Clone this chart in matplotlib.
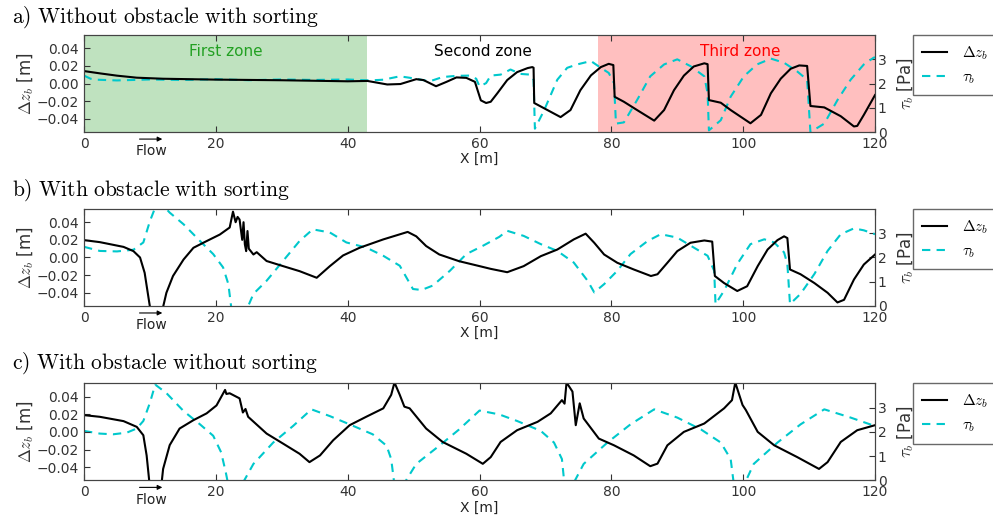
import numpy as np
import matplotlib
matplotlib.use('Agg')
import matplotlib.pyplot as plt

plt.rcParams['mathtext.fontset'] = 'cm'
plt.rcParams['font.family'] = 'DejaVu Sans'

titles = ['a)\\ Without\\ obstacle\\ with\\ sorting',
          'b)\\ With\\ obstacle\\ with\\ sorting',
          'c)\\ With\\ obstacle\\ without\\ sorting']

# panel a
xa_dz = [0, 2.5, 5, 8, 12, 20, 30, 40, 43, 44.5, 46, 48, 50.4, 51.5, 53.4, 55, 56.5, 58, 59.3,
         60.2, 61, 61.7, 62.7, 64.2, 65.7, 67.3, 68.0, 68.2, 68.3, 72.3, 73.8, 75.3, 76.9,
         78.4, 79.6, 80.3, 80.5, 81.9, 83.9, 86.5, 88, 89.5, 91, 92.5, 94.1, 94.6, 94.8,
         96.6, 98.1, 101.1, 102.7, 104.2, 105.7, 107.2, 108.5, 109.7, 110.2, 112.3, 114.8,
         116.8, 117.3, 118.3, 120]
a_dz = [0.0142, 0.0115, 0.009, 0.0067, 0.0055, 0.0045, 0.0038, 0.0026, 0.003, 0.001, -0.001,
        -0.0005, 0.005, 0.004, -0.003, 0.002, 0.007, 0.0065, 0.002, -0.019, -0.022, -0.0206,
        -0.011, 0.004, 0.013, 0.0176, 0.0187, 0.018, -0.022, -0.038, -0.030, -0.0075, 0.0093,
        0.0187, 0.0224, 0.021, -0.015, -0.0206, -0.030, -0.042, -0.030, -0.0075, 0.009,
        0.0194, 0.023, 0.022, -0.0187, -0.0217, -0.030, -0.045, -0.0355, -0.011, 0.0056,
        0.0168, 0.0206, 0.020, -0.0254, -0.027, -0.037, -0.0486, -0.048, -0.0355, -0.013]
xa_tau = [0, 1, 2, 5, 10, 15, 20, 25, 30, 35, 40, 43.3, 45.4, 47.9, 50.4, 52.4, 54.4, 56.5,
          58.5, 59.5, 60, 61, 61.7, 63.2, 64.7, 66.2, 67.7, 68.2, 68.4, 69.8, 71.8, 73.3, 74.8,
          76.9, 78.4, 79.6, 80.4, 80.7, 81.9, 83.9, 85.9, 88, 90, 92, 94.1, 94.6, 94.8, 96.6,
          98.1, 100.1, 102.1, 104.2, 106.2, 108.2, 109.7, 110.2, 112.3, 114.3, 116.3, 118.3,
          119.8, 120]
a_tau = [2.33, 2.2, 2.16, 2.13, 2.17, 2.15, 2.18, 2.14, 2.17, 2.15, 2.17, 2.13, 2.16, 2.3, 2.2,
         2.09, 2.27, 2.32, 2.33, 2.2, 1.88, 2.02, 2.33, 2.37, 2.58, 2.4, 2.37, 2.16, 0.14, 0.9,
         2.16, 2.65, 2.79, 2.93, 2.65, 2.44, 2.02, 0.35, 0.4, 1.32, 2.3, 2.79, 3.0, 2.72, 2.3,
         1.6, 0.07, 0.49, 1.46, 2.3, 2.79, 3.03, 2.86, 2.5, 2.16, 0.0, 0.35, 1.32, 2.16, 2.79,
         3.07, 3.08]

# panel b
xb_dz = [0, 2.4, 6, 7.5, 8.5, 9.2, 9.75, 10, 11, 12, 12.5, 13.5, 15.1, 16.6, 18.6, 20.6, 22.1,
         22.6, 23.0, 23.3, 23.6, 24.0, 24.2, 24.4, 24.6, 24.8, 25.0, 25.7, 26.2, 27.7, 30.2,
         32.7, 35.3, 37.3, 39.3, 41.8, 45.4, 49.1, 50.4, 51.9, 53.9, 56.9, 60, 61.7, 64.2,
         66.7, 69.3, 71.8, 74.3, 76.1, 77.4, 78.9, 80.9, 83.4, 86, 87, 88.5, 90, 92, 94.1,
         95.3, 95.7, 97.1, 99.1, 100.6, 102.2, 103.7, 105.2, 106.2, 106.7, 107.1, 108.7,
         110.8, 112.8, 114.3, 115.3, 116.8, 118.3, 120]
b_dz = [0.0197, 0.0174, 0.012, 0.0072, 0.0, -0.0174, -0.044, -0.056, -0.09, -0.056, -0.040,
        -0.021, -0.0023, 0.011, 0.0186, 0.026, 0.034, 0.052, 0.040, 0.046, 0.043, 0.02, 0.04,
        0.015, 0.0072, 0.03, 0.01, 0.0034, 0.006, -0.004, -0.0098, -0.0155, -0.023, -0.0098,
        0.0023, 0.011, 0.0205, 0.029, 0.024, 0.013, 0.0034, -0.0042, -0.0098, -0.0129,
        -0.0167, -0.0098, 0.0015, 0.009, 0.0205, 0.027, 0.0167, 0.0034, -0.006, -0.0136,
        -0.021, -0.019, -0.006, 0.0072, 0.0167, 0.0193, 0.018, -0.021, -0.029, -0.038,
        -0.0326, -0.0098, 0.009, 0.0197, 0.024, 0.022, -0.0136, -0.019, -0.029, -0.040,
        -0.051, -0.048, -0.025, -0.008, 0.0034]
xb_tau = [0, 2.4, 5, 7.5, 9, 10, 11, 11.8, 13, 15.1, 17.6, 19.6, 21.1, 21.9, 22.4, 24.6, 25.7,
          27.7, 30.2, 32.7, 34.7, 37.3, 39.8, 42.8, 45.4, 47.9, 49.9, 51.2, 52.9, 55.5, 58,
          60.5, 63, 64.2, 66.7, 69.3, 71.8, 74.3, 76.4, 77.4, 78.9, 80.9, 82.9, 85.5, 87.5,
          90, 92.5, 94.6, 95.6, 95.8, 97.1, 99.1, 101.1, 103.2, 104.7, 106.2, 106.7, 107.1,
          108.7, 110.8, 112.8, 114.8, 116.8, 118.3, 120]
b_tau = [2.44, 2.27, 2.25, 2.32, 2.62, 3.5, 4.2, 4.2, 3.85, 3.37, 2.68, 2.14, 1.59, 0.9, -0.2,
         -0.2, 0.5, 1.04, 1.86, 2.68, 3.16, 3.03, 2.62, 2.41, 2.07, 1.66, 0.7, 0.66, 0.84,
         1.45, 2.14, 2.48, 2.85, 3.1, 2.89, 2.55, 2.27, 1.79, 1.04, 0.56, 0.9, 1.45, 2.14,
         2.68, 2.96, 2.82, 2.41, 2.07, 1.45, 0.08, 0.63, 1.73, 2.55, 2.75, 2.62, 2.21, 1.73,
         0.08, 0.5, 1.32, 2.27, 2.96, 3.2, 3.12, 2.96]

# panel c
xc_dz = [0, 2.4, 6, 8, 9, 9.5, 9.9, 11, 11.8, 12, 13, 14.5, 16.6, 18.6, 20.1, 21.4, 21.6, 22.1,
         23.6, 24.1, 24.5, 24.9, 27.7, 30.2, 32.7, 34.2, 35.8, 37.8, 40.3, 42.8, 45.4, 46.6,
         47.1, 47.9, 48.6, 49.4, 51.9, 54.4, 58, 60.5, 61.7, 63.2, 65.7, 68.8, 70.8, 72.5,
         72.9, 73.2, 74.1, 74.6, 75.2, 75.8, 78.1, 80.4, 83.4, 85.9, 87, 88.5, 91, 94.1,
         97.1, 98.3, 98.8, 99.4, 99.9, 100.4, 102.2, 104.7, 108.2, 111.5, 112.8, 114.8,
         117.3, 120]
c_dz = [0.019, 0.0171, 0.0122, 0.0057, -0.0038, -0.0267, -0.056, -0.1, -0.056, -0.042,
        -0.015, 0.0038, 0.0133, 0.021, 0.030, 0.0476, 0.043, 0.0438, 0.038, 0.022, 0.026,
        0.0171, -0.0019, -0.0133, -0.0248, -0.0343, -0.0267, -0.0095, 0.0076, 0.0171,
        0.0267, 0.042, 0.056, 0.042, 0.0286, 0.0267, 0.0038, -0.0114, -0.0248, -0.0362,
        -0.0286, -0.0114, 0.0019, 0.0114, 0.021, 0.036, 0.032, 0.056, 0.0457, 0.0076,
        0.0324, 0.0152, -0.0076, -0.0152, -0.0267, -0.0389, -0.036, -0.0152, 0.0, 0.0095,
        0.0267, 0.036, 0.056, 0.042, 0.0305, 0.0248, 0.0, -0.0152, -0.0286, -0.042,
        -0.0343, -0.0114, 0.0019, 0.0076]
xc_tau = [0, 2.4, 4.4, 6.5, 8, 9, 10, 10.8, 12.5, 15.1, 17.6, 19.6, 20.8, 21.5, 21.9, 23.9,
          25.7, 28.7, 31.7, 34.5, 37.3, 40.3, 43.8, 45.9, 46.6, 47.1, 48.4, 50.4, 53.9, 56.9,
          60, 63, 65.7, 69.3, 71.3, 72.5, 72.9, 74.1, 75.8, 79.4, 82.9, 86.5, 90, 93.6,
          96.6, 98.1, 98.6, 100.1, 101.6, 105.2, 108.7, 112.3, 116.3, 120]
c_tau = [2.04, 1.93, 1.9, 1.97, 2.14, 2.45, 3.2, 3.95, 3.6, 2.86, 2.31, 1.84, 1.16, 0.34, -0.2,
         -0.2, 0.68, 1.56, 2.24, 2.93, 2.65, 2.31, 1.9, 1.43, 0.88, -0.2, -0.2, 0.68, 1.43,
         2.1, 2.88, 2.72, 2.45, 2.04, 1.56, 0.88, -0.2, -0.2, 0.68, 1.56, 2.31, 2.93, 2.59,
         2.1, 1.56, 0.88, -0.2, -0.2, 0.68, 1.56, 2.31, 2.93, 2.59, 2.24]

panels = [(xa_dz, a_dz, xa_tau, a_tau), (xb_dz, b_dz, xb_tau, b_tau), (xc_dz, c_dz, xc_tau, c_tau)]
bottoms = [0.744, 0.407, 0.069]
title_y = [0.967, 0.631, 0.296]
cyan = '#00c8cc'

fig = plt.figure(figsize=(9.93, 5.16), dpi=100)
for i, (xd, yd, xt, yt) in enumerate(panels):
    ax = fig.add_axes([0.0846, bottoms[i], 0.7966, 0.188])
    ax2 = ax.twinx()
    l1, = ax.plot(xd, yd, color='k', lw=1.5)
    l2, = ax2.plot(xt, yt, color=cyan, lw=1.5, ls='--', dashes=(4, 3))
    ax.set_xlim(0, 120)
    ax.set_ylim(-0.055, 0.055)
    ax2.set_ylim(0, 4)
    ax.set_yticks([-0.04, -0.02, 0.0, 0.02, 0.04])
    ax.set_yticklabels(['\u22120.04', '\u22120.02', '0.00', '0.02', '0.04'])
    ax2.set_yticks([0, 1, 2, 3])
    ax.set_xticks([0, 20, 40, 60, 80, 100, 120])
    ax.tick_params(direction='in', top=True, labelsize=10, colors='#333333', length=4)
    ax2.tick_params(direction='in', labelsize=10, colors='#333333', length=4, pad=2)
    for a in (ax, ax2):
        for s in a.spines.values():
            s.set_color('#444444')
    ax.set_ylabel(r'$\Delta z_b$ [m]', fontsize=12, color='#333333', labelpad=1)
    ax2.set_ylabel(r'$\tau_b$ [Pa]', fontsize=12, color='#333333', labelpad=6)
    ax.set_xlabel('X [m]', fontsize=10, color='#222222', labelpad=1)
    ax.annotate('', xy=(12.3, -0.072), xytext=(8.0, -0.072),
                xycoords=('data', 'axes fraction'), annotation_clip=False,
                arrowprops=dict(arrowstyle='-|>', color='k', lw=0.8, mutation_scale=7))
    ax.text(10.3, -0.2, 'Flow', transform=ax.get_xaxis_transform(),
            ha='center', va='center', fontsize=10, color='#222222')
    ax.set_zorder(ax2.get_zorder() + 1)
    ax.patch.set_visible(False)
    leg = ax.legend([l1, l2], [r'$\Delta z_b$', r'$\tau_b$'], loc='upper left',
                    bbox_to_anchor=(1.048, 1.0), borderaxespad=0, fontsize=11,
                    frameon=True, fancybox=False, handlelength=1.6, handletextpad=1.0,
                    borderpad=0.6, labelspacing=0.5)
    leg.get_frame().set_edgecolor('#444444')
    leg.get_frame().set_linewidth(1.0)
    fig.text(0.012, title_y[i], '$\\mathrm{' + titles[i] + '}$', fontsize=15.5, va='center')
    if i == 0:
        ax2.axvspan(0, 43, color='#2ca02c', alpha=0.3, lw=0, zorder=0)
        ax2.axvspan(78, 120, color='red', alpha=0.25, lw=0, zorder=0)
        ax.text(21.5, 0.036, 'First zone', color='#22a022', ha='center', va='center', fontsize=11)
        ax.text(60.5, 0.036, 'Second zone', color='k', ha='center', va='center', fontsize=11)
        ax.text(99.5, 0.036, 'Third zone', color='red', ha='center', va='center', fontsize=11)

fig.savefig('out.png', dpi=100)
